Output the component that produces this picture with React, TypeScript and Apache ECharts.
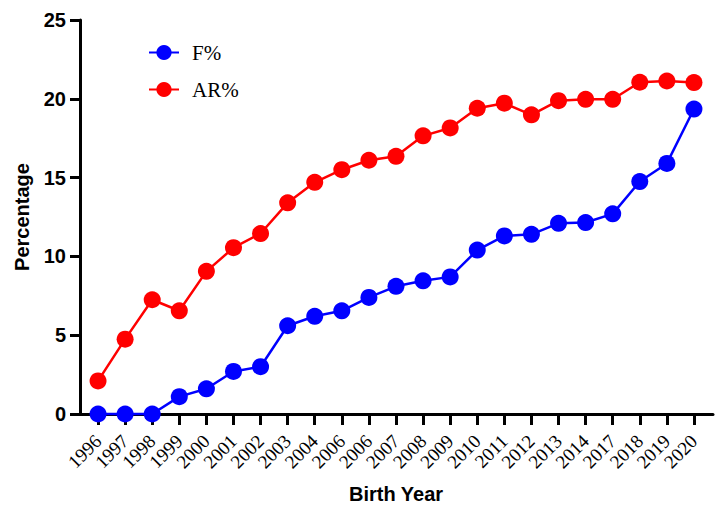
import React, { useEffect, useRef } from "react";
import * as echarts from "echarts";

const categories = ["1996","1997","1998","1999","2000","2001","2002","2003","2004","2006","2006","2007","2008","2009","2010","2011","2012","2013","2014","2017","2018","2019","2020"];
const fValues = [0, 0, 0, 1.1, 1.6, 2.7, 3.0, 5.6, 6.2, 6.55, 7.4, 8.1, 8.45, 8.7, 10.4, 11.3, 11.4, 12.1, 12.15, 12.7, 14.75, 15.9, 19.35];
const arValues = [2.1, 4.75, 7.25, 6.55, 9.05, 10.55, 11.45, 13.4, 14.7, 15.5, 16.1, 16.35, 17.65, 18.15, 19.4, 19.72, 18.98, 19.88, 19.97, 19.97, 21.05, 21.13, 21.03];
const yTicks = { min: 0, max: 25, interval: 5 };

export default function App() {
  const ref = useRef<HTMLDivElement>(null);
  useEffect(() => {
    if (!ref.current) return;
    const chart = echarts.init(ref.current, null, { renderer: "svg" });
    const sans = "'Liberation Sans', Arial, sans-serif";
    const serif = "'Liberation Serif', 'Times New Roman', serif";
    chart.setOption({
      animation: false,
      backgroundColor: "#ffffff",
      legend: {
        orient: "vertical",
        left: 143,
        top: 37,
        itemWidth: 30,
        itemHeight: 19,
        itemGap: 16,
        textStyle: { fontFamily: serif, fontSize: 21, color: "#000", padding: [0, 0, 0, 8] },
        data: ["F%", "AR%"],
      },
      grid: [
        { left: 80, right: 14, top: 20, bottom: 110 },
        { left: 84.5, right: 19.5, top: 20, bottom: 110 },
      ],
      xAxis: [
        {
          type: "value",
          gridIndex: 0,
          min: 0,
          max: 1,
          axisLine: { show: true, onZero: false, lineStyle: { color: "#000", width: 3 } },
          axisTick: { show: false },
          axisLabel: { show: false },
          splitLine: { show: false },
        },
        {
          type: "category",
          gridIndex: 1,
          data: categories,
          boundaryGap: true,
          axisLine: { show: false },
          axisTick: { show: true, alignWithLabel: true, length: 11, lineStyle: { color: "#000", width: 3 } },
          axisLabel: { rotate: 45, margin: 24, fontFamily: serif, fontSize: 19, color: "#000", interval: 0 },
          name: "Birth Year",
          nameLocation: "middle",
          nameGap: 70,
          nameTextStyle: { fontFamily: sans, fontSize: 20, fontWeight: "bold", color: "#000" },
        },
      ],
      yAxis: [
        {
          type: "value",
          gridIndex: 0,
          min: yTicks.min,
          max: yTicks.max,
          interval: yTicks.interval,
          axisLine: { show: true, lineStyle: { color: "#000", width: 3 } },
          axisTick: { show: true, length: 10, lineStyle: { color: "#000", width: 3 } },
          axisLabel: { margin: 14, fontFamily: sans, fontSize: 20, fontWeight: "bold", color: "#000" },
          splitLine: { show: false },
          name: "Percentage",
          nameLocation: "middle",
          nameGap: 48,
          nameTextStyle: { fontFamily: sans, fontSize: 20, fontWeight: "bold", color: "#000" },
        },
        {
          type: "value",
          gridIndex: 1,
          min: yTicks.min,
          max: yTicks.max,
          interval: yTicks.interval,
          show: false,
          splitLine: { show: false },
        },
      ],
      series: [
        {
          name: "F%",
          type: "line",
          xAxisIndex: 1,
          yAxisIndex: 1,
          data: fValues,
          symbol: "circle",
          symbolSize: 17,
          clip: false,
          color: "#0000ff",
          lineStyle: { color: "#0000ff", width: 2.5 },
          itemStyle: { color: "#0000ff" },
          z: 4,
        },
        {
          name: "AR%",
          type: "line",
          xAxisIndex: 1,
          yAxisIndex: 1,
          data: arValues,
          symbol: "circle",
          symbolSize: 17,
          clip: false,
          color: "#ff0000",
          lineStyle: { color: "#ff0000", width: 2.5 },
          itemStyle: { color: "#ff0000" },
          z: 3,
        },
      ],
    });
    return () => chart.dispose();
  }, []);
  return <div ref={ref} style={{ width: 727, height: 524, position: "absolute", left: 0, top: 0 }} />;
}
